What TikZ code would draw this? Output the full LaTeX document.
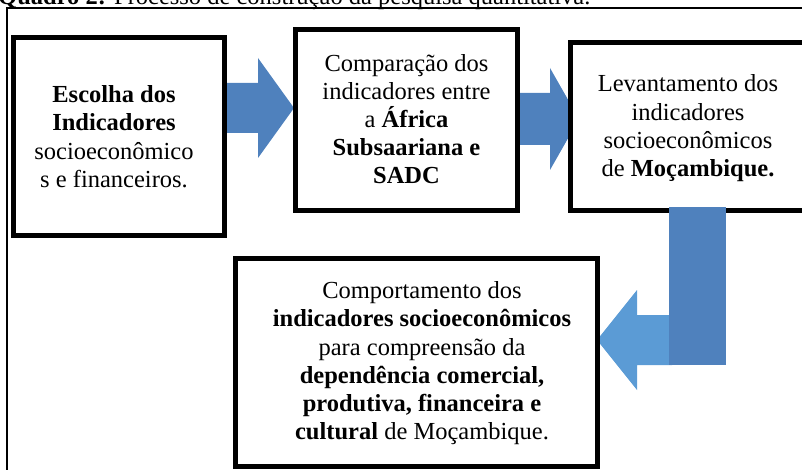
\documentclass[tikz,border=0pt]{standalone}
\usepackage{fontspec}
\setmainfont{Liberation Serif}
\definecolor{arrdark}{HTML}{4F81BD}
\definecolor{arrlight}{HTML}{5B9BD5}
\begin{document}
\begin{tikzpicture}[x=1pt,y=-1pt,
  boxstyle/.style={draw=black, line width=5pt, fill=white, inner sep=0pt, outer sep=0pt},
  txt/.style={font=\fontsize{24.5}{28.2}\selectfont, align=center, inner sep=0pt},
  darrow/.style={fill=arrdark},
  larrow/.style={fill=arrlight}]
\useasboundingbox (0,0) rectangle (802,470);
\clip (0,0) rectangle (802,470);
% caption and frame
\node[anchor=base west, font=\fontsize{24.5}{28}\selectfont, inner sep=0pt] (cap) at (-2,4.5)
  {\textbf{Quadro 2:} Processo de construção da pesquisa quantitativa.};
\draw[line width=2pt] (7,480) -- (7,8) -- (812,8);
% block arrows (behind boxes)
\fill[darrow] (220,83) -- (258,83) -- (258,58) -- (294,108) -- (258,158) -- (258,133) -- (220,133) -- cycle;
\fill[darrow] (517,93) -- (550,93) -- (550,68) -- (579,119) -- (550,170) -- (550,145) -- (517,145) -- cycle;
\fill[larrow] (672,315) -- (637,315) -- (637,290) -- (597,340) -- (637,390) -- (637,365) -- (672,365) -- cycle;
% boxes
\node[boxstyle, minimum width=211pt, minimum height=198pt] (b1) at (119,136.5) {};
\node[boxstyle, minimum width=222pt, minimum height=181pt] (b2) at (406.5,120) {};
\node[boxstyle, minimum width=235pt, minimum height=168pt] (b3) at (688,126.5) {};
\node[boxstyle, minimum width=362pt, minimum height=208pt] (b4) at (416.5,362.5) {};
% vertical bar over box 3 border
\fill[darrow] (669,207) rectangle (726,365);
% texts
\node[txt] (t1) at (114,136.7) {\textbf{Escolha dos}\\\textbf{Indicadores}\\socioeconômico\\s e financeiros.};
\node[txt] (t2) at (406.5,119.2) {Comparação dos\\indicadores entre\\a \textbf{África}\\\textbf{Subsaariana e}\\\textbf{SADC}};
\node[txt] (t3) at (688,128.3) {Levantamento dos\\indicadores\\socioeconômicos\\de \textbf{Moçambique.}};
\node[txt] (t4) at (422,363.3) {Comportamento dos\\\textbf{indicadores socioeconômicos}\\para compreensão da\\\textbf{dependência comercial,}\\\textbf{produtiva, financeira e}\\\textbf{cultural} de Moçambique.};
\end{tikzpicture}
\end{document}
